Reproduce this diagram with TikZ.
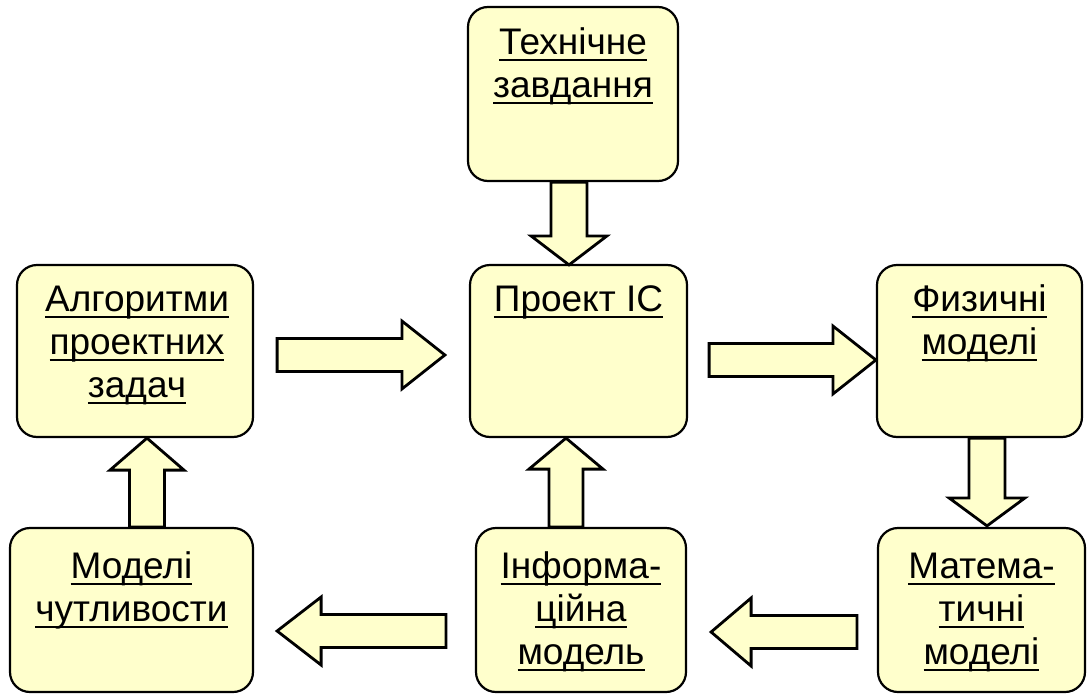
\documentclass[tikz,border=0pt]{standalone}
\usepackage{fontspec}
\setmainfont{Liberation Sans}
\usetikzlibrary{calc}
\definecolor{paleyellow}{RGB}{255,255,204}

% underlined word with a fixed underline depth and a fixed line height
\newcommand\ulword[1]{\setbox0\hbox{#1}\rlap{\rule[-7pt]{\wd0}{2.5pt}}\rule{0pt}{30pt}\box0}

% hollow block arrow: #1 start, #2 tip, #3 half shaft width, #4 half head width, #5 head length
\newcommand\blockarrow[5]{%
  \coordinate (ba-h) at ($(#2)!#5!(#1)$);
  \draw[fatarrow] ($(#1)!#3!90:(#2)$) -- ($(ba-h)!#3!90:(#2)$) -- ($(ba-h)!#4!90:(#2)$)
    -- (#2) -- ($(ba-h)!#4!-90:(#2)$) -- ($(ba-h)!#3!-90:(#2)$) -- ($(#1)!#3!-90:(#2)$) -- cycle;}

\tikzset{
  box/.style={draw, line width=2.2pt, fill=paleyellow, rounded corners=20pt,
    inner sep=0pt, rectangle},
  label text/.style={anchor=north, inner sep=0pt, align=center,
    font=\fontsize{37}{43}\selectfont},
  fatarrow/.style={draw, line width=2.8pt, fill=paleyellow, line join=miter},
}

\begin{document}
\begin{tikzpicture}[x=1pt, y=-1pt]
\useasboundingbox (0,0) rectangle (1087,696);

% boxes
\node[box, minimum width=210pt, minimum height=174pt] (tz) at (573,94) {};
\node[box, minimum width=217pt, minimum height=172pt] (pr) at (578.5,351) {};
\node[box, minimum width=236pt, minimum height=172pt] (alg) at (135,351) {};
\node[box, minimum width=205pt, minimum height=172pt] (fiz) at (979.5,351) {};
\node[box, minimum width=243pt, minimum height=164pt] (mod) at (131.5,610) {};
\node[box, minimum width=210pt, minimum height=164pt] (inf) at (581,610) {};
\node[box, minimum width=207pt, minimum height=164pt] (mat) at (981.5,610) {};

% box texts
\node[label text] (tz-t) at ($(tz.north)+(0,18)$) {\ulword{Технічне}\\\ulword{завдання}};
\node[label text] (pr-t) at ($(pr.north)+(0,17)$) {\ulword{Проект ІС}};
\node[label text] (alg-t) at ($(alg.north)+(2,17)$) {\ulword{Алгоритми}\\\ulword{проектних}\\\ulword{задач}};
\node[label text] (fiz-t) at ($(fiz.north)+(0,17)$) {\ulword{Физичні}\\\ulword{моделі}};
\node[label text] (mod-t) at ($(mod.north)+(0,21)$) {\ulword{Моделі}\\\ulword{чутливости}};
\node[label text] (inf-t) at ($(inf.north)+(0,21)$) {\ulword{Інформа-}\\\ulword{ційна}\\\ulword{модель}};
\node[label text] (mat-t) at ($(mat.north)+(0,21)$) {\ulword{Матема-}\\\ulword{тичні}\\\ulword{моделі}};

% arrow end points
\coordinate (a1s) at ($(tz.south)+(-4,0)$);
\coordinate (a1e) at ($(pr.north)+(-9.5,1)$);
\coordinate (a2s) at ($(alg.east)+(23,4)$);
\coordinate (a2e) at ($(pr.west)+(-24,4)$);
\coordinate (a3s) at ($(pr.east)+(21,9)$);
\coordinate (a3e) at ($(fiz.west)+(0,9)$);
\coordinate (a4s) at ($(fiz.south)+(7.5,0)$);
\coordinate (a4e) at ($(mat.north)+(5.5,-1)$);
\coordinate (a5s) at ($(mat.west)+(-20,22)$);
\coordinate (a5e) at ($(inf.east)+(24,22)$);
\coordinate (a6s) at ($(inf.north)+(-15,0)$);
\coordinate (a6e) at ($(pr.south)+(-12.5,0)$);
\coordinate (a7s) at ($(mod.north)+(15.5,0)$);
\coordinate (a7e) at ($(alg.south)+(12,0)$);
\coordinate (a8s) at ($(inf.west)+(-29,21)$);
\coordinate (a8e) at ($(mod.east)+(23,21)$);

% block arrows
\blockarrow{a1s}{a1e}{18pt}{38pt}{29pt}
\blockarrow{a2s}{a2e}{16.5pt}{34pt}{43pt}
\blockarrow{a3s}{a3e}{16.5pt}{34pt}{43pt}
\blockarrow{a4s}{a4e}{18pt}{38pt}{28pt}
\blockarrow{a5s}{a5e}{16.5pt}{34pt}{40pt}
\blockarrow{a6s}{a6e}{17pt}{37pt}{31pt}
\blockarrow{a7s}{a7e}{17.5pt}{37pt}{32pt}
\blockarrow{a8s}{a8e}{16.5pt}{34pt}{44pt}
\end{tikzpicture}
\end{document}
